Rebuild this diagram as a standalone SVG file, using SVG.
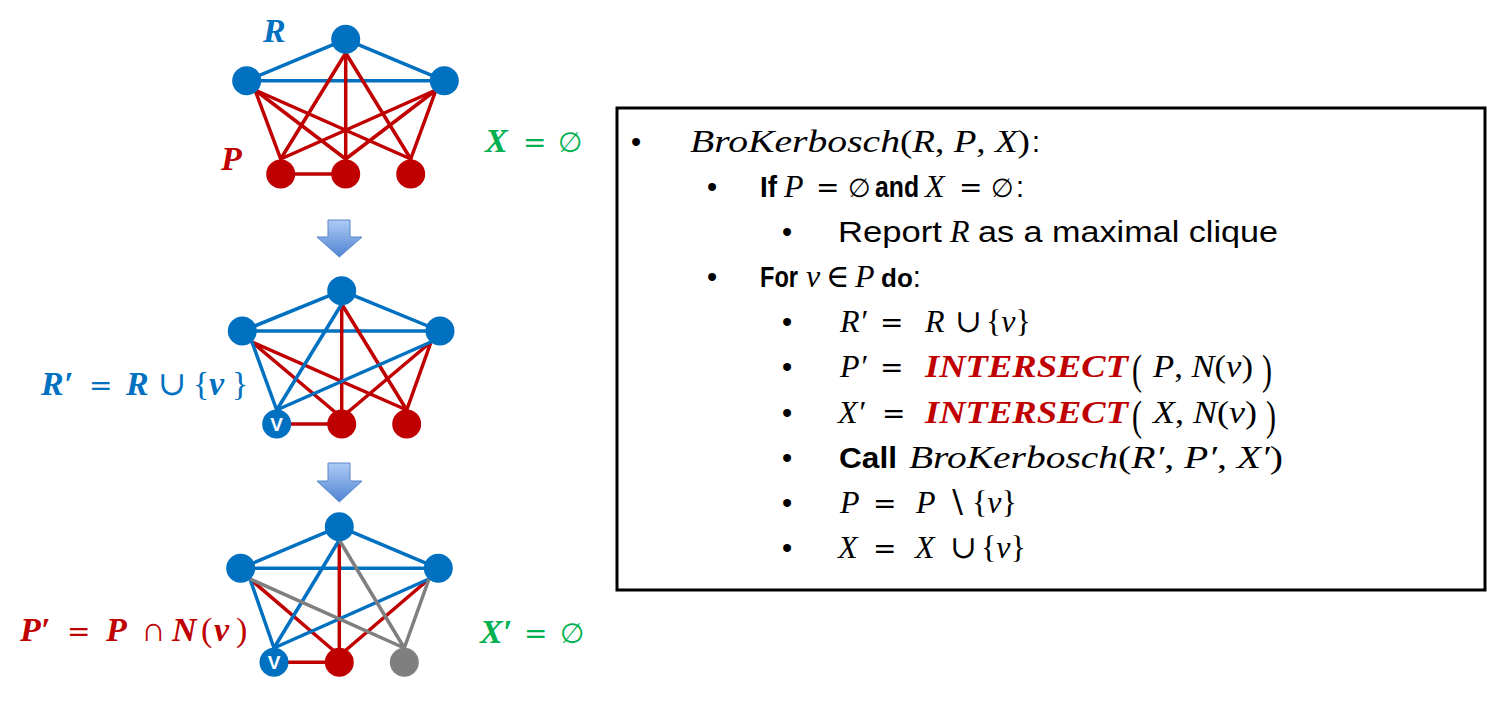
<svg xmlns="http://www.w3.org/2000/svg" width="1487" height="717" viewBox="0 0 1487 717">
<style>
.e{stroke-width:3.5;stroke-linecap:round;fill:none}
.b{stroke:#0070C0}.r{stroke:#C00000}.g{stroke:#7F7F7F}
.nb{fill:#0070C0}.nr{fill:#C00000}.ng{fill:#7F7F7F}
.m{font-family:"Liberation Serif","DejaVu Serif",serif;font-style:italic;font-size:32px;fill:#000}
.u{font-family:"Liberation Serif","DejaVu Serif",serif;font-size:32px;fill:#000}
.bp{font-family:"Liberation Serif","DejaVu Serif",serif;font-size:30px;fill:#000}
.es{font-family:"DejaVu Sans","Liberation Serif",serif;font-size:26px;fill:#000}
.eq{font-family:"DejaVu Sans","Liberation Serif",serif;font-size:28px;fill:#000}
.s{font-family:"Liberation Sans",Arial,sans-serif;font-size:29px;fill:#000}
.sb{font-family:"Liberation Sans",Arial,sans-serif;font-size:29px;font-weight:bold;fill:#000}
.red{fill:#C00000;font-weight:bold}
.lb{font-family:"Liberation Serif","DejaVu Serif",serif;font-style:italic;font-weight:bold;font-size:34px}
.lo{font-family:"Liberation Serif","DejaVu Serif",serif;font-size:34px}
.le{font-family:"DejaVu Sans","Liberation Serif",serif;font-size:28px}
.cb{fill:#0070C0}.cr{fill:#C00000}.cg{fill:#00B050}
.vl{font-family:"Liberation Sans",Arial,sans-serif;font-weight:bold;font-size:19px;fill:#fff;text-anchor:middle}
.arr{fill:url(#ag);stroke:#5A86C8;stroke-width:1}
</style>
<defs>
<linearGradient id="ag" x1="0" y1="0" x2="0" y2="1">
<stop offset="0" stop-color="#AECBF6"/>
<stop offset="1" stop-color="#4F84D2"/>
</linearGradient>
</defs>
<rect width="1487" height="717" fill="#fff"/>

<g id="connectors">
<!-- graph 1 -->
<line class="e b" x1="246.7" y1="80.7" x2="345.7" y2="39.3"/>
<line class="e b" x1="345.7" y1="39.3" x2="444.3" y2="80.7"/>
<line class="e b" x1="246.7" y1="80.7" x2="444.3" y2="80.7"/>
<line class="e r" x1="255" y1="90" x2="280.7" y2="159"/>
<line class="e r" x1="255" y1="90" x2="345.7" y2="159"/>
<line class="e r" x1="255" y1="90" x2="410.7" y2="159"/>
<line class="e r" x1="436" y1="90" x2="280.7" y2="159"/>
<line class="e r" x1="436" y1="90" x2="345.7" y2="159"/>
<line class="e r" x1="436" y1="90" x2="410.7" y2="159"/>
<line class="e r" x1="345.7" y1="53" x2="280.7" y2="159"/>
<line class="e r" x1="345.7" y1="53" x2="345.7" y2="159"/>
<line class="e r" x1="345.7" y1="53" x2="410.7" y2="159"/>
<line class="e r" x1="280.7" y1="174" x2="345.7" y2="174"/>
<!-- graph 2 -->
<line class="e b" x1="242.3" y1="331" x2="341.7" y2="290.7"/>
<line class="e b" x1="341.7" y1="290.7" x2="440" y2="331"/>
<line class="e b" x1="242.3" y1="331" x2="440" y2="331"/>
<line class="e r" x1="252" y1="342" x2="335" y2="412"/>
<line class="e r" x1="252" y1="342" x2="406.7" y2="410"/>
<line class="e r" x1="341.7" y1="304" x2="341.7" y2="410"/>
<line class="e r" x1="341.7" y1="304" x2="406.7" y2="410"/>
<line class="e r" x1="431" y1="342" x2="348" y2="412"/>
<line class="e r" x1="431" y1="342" x2="406.7" y2="410"/>
<line class="e r" x1="276.7" y1="424" x2="341.7" y2="424"/>
<line class="e b" x1="252" y1="342" x2="276.7" y2="410"/>
<line class="e b" x1="341.7" y1="304" x2="276.7" y2="410"/>
<line class="e b" x1="431" y1="342" x2="276.7" y2="410"/>
<!-- graph 3 -->
<line class="e b" x1="240.7" y1="568.3" x2="339.3" y2="526.7"/>
<line class="e b" x1="339.3" y1="526.7" x2="438.3" y2="568.3"/>
<line class="e b" x1="240.7" y1="568.3" x2="438.3" y2="568.3"/>
<line class="e r" x1="250" y1="579" x2="333" y2="650"/>
<line class="e r" x1="339.3" y1="540" x2="339.3" y2="648"/>
<line class="e r" x1="429" y1="579" x2="346" y2="650"/>
<line class="e r" x1="274" y1="662.3" x2="339.3" y2="662.3"/>
<line class="e b" x1="250" y1="579" x2="274" y2="648"/>
<line class="e b" x1="339.3" y1="540" x2="274" y2="648"/>
<line class="e b" x1="429" y1="579" x2="274" y2="648"/>
<line class="e g" x1="250" y1="579" x2="404.3" y2="648"/>
<line class="e g" x1="339.3" y1="540" x2="404.3" y2="648"/>
<line class="e g" x1="429" y1="579" x2="404.3" y2="648"/>
</g>

<g id="graph1-nodes">
<g id="g1-top"><circle class="nb" cx="345.7" cy="39.3" r="14.5"/></g>
<g id="g1-left"><circle class="nb" cx="246.7" cy="80.7" r="14.5"/></g>
<g id="g1-right"><circle class="nb" cx="444.3" cy="80.7" r="14.5"/></g>
<g id="g1-p1"><circle class="nr" cx="280.7" cy="174" r="14.5"/></g>
<g id="g1-p2"><circle class="nr" cx="345.7" cy="174" r="14.5"/></g>
<g id="g1-p3"><circle class="nr" cx="410.7" cy="174" r="14.5"/></g>
</g>
<g id="graph2-nodes">
<g id="g2-top"><circle class="nb" cx="341.7" cy="290.7" r="14.5"/></g>
<g id="g2-left"><circle class="nb" cx="242.3" cy="331" r="14.5"/></g>
<g id="g2-right"><circle class="nb" cx="440" cy="331" r="14.5"/></g>
<g id="g2-v"><circle class="nb" cx="276.7" cy="424" r="14.5"/><text class="vl" x="276.7" y="431">V</text></g>
<g id="g2-p2"><circle class="nr" cx="341.7" cy="424" r="14.5"/></g>
<g id="g2-p3"><circle class="nr" cx="406.7" cy="424" r="14.5"/></g>
</g>
<g id="graph3-nodes">
<g id="g3-top"><circle class="nb" cx="339.3" cy="526.7" r="14.5"/></g>
<g id="g3-left"><circle class="nb" cx="240.7" cy="568.3" r="14.5"/></g>
<g id="g3-right"><circle class="nb" cx="438.3" cy="568.3" r="14.5"/></g>
<g id="g3-v"><circle class="nb" cx="274" cy="662.3" r="14.5"/><text class="vl" x="274" y="669.3">V</text></g>
<g id="g3-p2"><circle class="nr" cx="339.3" cy="662.3" r="14.5"/></g>
<g id="g3-gray"><circle class="ng" cx="404.3" cy="662.3" r="14.5"/></g>
</g>

<g id="arrows">
<path class="arr" d="M328,220 H350 V237 H362 L339.3,257 L317,237 H328 Z"/>
<path class="arr" d="M328,463 H350 V481 H362 L339.3,502 L317,481 H328 Z"/>
</g>

<g id="labels">
<text class="lb cb" x="263" y="42">R</text>
<text class="lb cr" x="221" y="170">P</text>
<text class="cg" y="152"><tspan class="lb" x="485">X</tspan><tspan class="le" x="523">=</tspan><tspan class="le" x="558">∅</tspan></text>
<text class="cb" y="395"><tspan class="lb" x="41">R′</tspan><tspan class="le" x="89">=</tspan><tspan class="lb" x="126">R</tspan><tspan class="lo" x="158">∪</tspan><tspan class="lo" x="193">{</tspan><tspan class="lb" x="209">v</tspan><tspan class="lo" x="232">}</tspan></text>
<text class="cr" y="641"><tspan class="lb" x="20">P′</tspan><tspan class="le" x="67">=</tspan><tspan class="lb" x="106">P</tspan><tspan class="lo" x="141">∩</tspan><tspan class="lb" x="172">N</tspan><tspan class="lo" x="201">(</tspan><tspan class="lb" x="214">v</tspan><tspan class="lo" x="236">)</tspan></text>
<text class="cg" y="643"><tspan class="lb" x="480">X′</tspan><tspan class="le" x="524">=</tspan><tspan class="le" x="560">∅</tspan></text>
</g>

<g id="algorithm">
<rect x="617" y="108" width="868" height="482" fill="#fff" stroke="#000" stroke-width="3"/>
<!-- line 1 -->
<text class="s" x="631" y="152">•</text>
<text class="m" x="690" y="152" textLength="210" lengthAdjust="spacingAndGlyphs">BroKerbosch</text>
<text y="152" x="900" textLength="130" lengthAdjust="spacingAndGlyphs"><tspan class="u">(</tspan><tspan class="m">R</tspan><tspan class="u">, </tspan><tspan class="m">P</tspan><tspan class="u">, </tspan><tspan class="m">X</tspan><tspan class="u">)</tspan></text>
<text class="s" x="1032" y="152">:</text>
<!-- line 2 -->
<text class="s" x="707" y="197">•</text>
<text y="197"><tspan class="sb" x="760" textLength="17" lengthAdjust="spacingAndGlyphs">If</tspan><tspan class="m" x="784">P</tspan><tspan class="eq" x="816">=</tspan><tspan class="es" x="848">∅</tspan><tspan class="sb" x="875" textLength="44" lengthAdjust="spacingAndGlyphs">and</tspan><tspan class="m" x="925">X</tspan><tspan class="eq" x="959">=</tspan><tspan class="es" x="991">∅</tspan><tspan class="s" x="1016">:</tspan></text>
<!-- line 3 -->
<text class="s" x="782" y="242">•</text>
<text class="s" x="838" y="242" textLength="104" lengthAdjust="spacingAndGlyphs">Report</text>
<text class="m" x="950" y="242">R</text>
<text class="s" x="978" y="242" textLength="300" lengthAdjust="spacingAndGlyphs">as a maximal clique</text>
<!-- line 4 -->
<text class="s" x="707" y="287">•</text>
<text y="287"><tspan class="sb" x="760" textLength="38" lengthAdjust="spacingAndGlyphs">For</tspan><tspan class="m" x="806">v</tspan><tspan class="u" x="826">∈</tspan><tspan class="m" x="855">P</tspan><tspan class="sb" x="881" style="font-size:26px">do</tspan><tspan class="s">:</tspan></text>
<!-- line 5 -->
<text class="s" x="782" y="332">•</text>
<text y="332"><tspan class="m" x="840">R′</tspan><tspan class="eq" x="880">=</tspan><tspan class="m" x="925">R</tspan><tspan class="u" x="955">∪</tspan><tspan class="u" x="986">{</tspan><tspan class="m">v</tspan><tspan class="u">}</tspan></text>
<!-- line 6 -->
<text class="s" x="782" y="377">•</text>
<text y="377"><tspan class="m" x="840">P′</tspan><tspan class="eq" x="880">=</tspan></text>
<text class="m red" x="925" y="377" textLength="203" lengthAdjust="spacingAndGlyphs">INTERSECT</text>
<text class="bp" transform="translate(1132,384) scale(1,1.38)">(</text>
<text y="377" x="1153" textLength="100" lengthAdjust="spacingAndGlyphs"><tspan class="m">P</tspan><tspan class="u">, </tspan><tspan class="m">N</tspan><tspan class="u">(</tspan><tspan class="m">v</tspan><tspan class="u">)</tspan></text>
<text class="bp" transform="translate(1262,384) scale(1,1.38)">)</text>
<!-- line 7 -->
<text class="s" x="782" y="423">•</text>
<text y="423"><tspan class="m" x="838">X′</tspan><tspan class="eq" x="882">=</tspan></text>
<text class="m red" x="925" y="423" textLength="203" lengthAdjust="spacingAndGlyphs">INTERSECT</text>
<text class="bp" transform="translate(1132,430) scale(1,1.38)">(</text>
<text y="423" x="1153" textLength="104" lengthAdjust="spacingAndGlyphs"><tspan class="m">X</tspan><tspan class="u">, </tspan><tspan class="m">N</tspan><tspan class="u">(</tspan><tspan class="m">v</tspan><tspan class="u">)</tspan></text>
<text class="bp" transform="translate(1266,430) scale(1,1.38)">)</text>
<!-- line 8 -->
<text class="s" x="782" y="468">•</text>
<text class="sb" x="839" y="468" textLength="58" lengthAdjust="spacingAndGlyphs">Call</text>
<text class="m" x="909" y="468" textLength="209" lengthAdjust="spacingAndGlyphs">BroKerbosch</text>
<text y="468" x="1118" textLength="165" lengthAdjust="spacingAndGlyphs"><tspan class="u">(</tspan><tspan class="m">R′</tspan><tspan class="u">, </tspan><tspan class="m">P′</tspan><tspan class="u">, </tspan><tspan class="m">X′</tspan><tspan class="u">)</tspan></text>
<!-- line 9 -->
<text class="s" x="782" y="513">•</text>
<text y="513"><tspan class="m" x="840">P</tspan><tspan class="eq" x="873">=</tspan><tspan class="m" x="916">P</tspan><tspan class="u" x="946">∖</tspan><tspan class="u" x="972">{</tspan><tspan class="m">v</tspan><tspan class="u">}</tspan></text>
<!-- line 10 -->
<text class="s" x="782" y="558">•</text>
<text y="558"><tspan class="m" x="838">X</tspan><tspan class="eq" x="873">=</tspan><tspan class="m" x="915">X</tspan><tspan class="u" x="950">∪</tspan><tspan class="u" x="981">{</tspan><tspan class="m">v</tspan><tspan class="u">}</tspan></text>
</g>
</svg>
